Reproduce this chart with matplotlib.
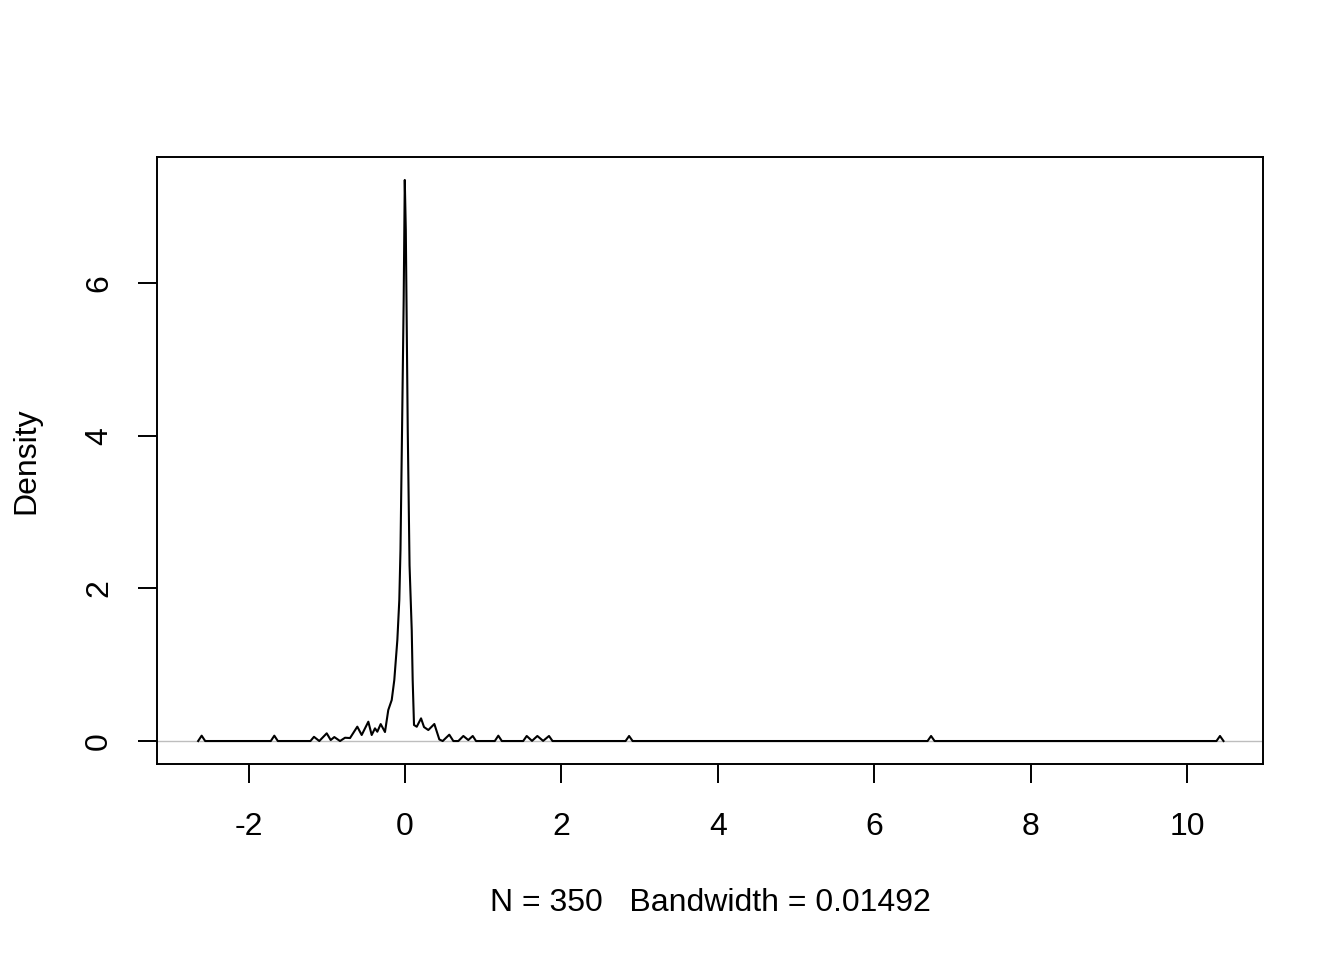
import matplotlib
matplotlib.use("Agg")
import matplotlib.pyplot as plt

plt.rcParams['font.family'] = ['Liberation Sans', 'DejaVu Sans']

# Density curve vertices (x, density)
curve_x = [-2.645, -2.600, -2.555, -1.716, -1.671, -1.626, -1.209, -1.164,
           -1.096, -1.001, -0.950, -0.904, -0.831, -0.767, -0.703, -0.610,
           -0.554, -0.469, -0.426, -0.384, -0.354, -0.311, -0.256, -0.214,
           -0.170, -0.137, -0.098, -0.073, -0.058, -0.038, -0.017, -0.003,
           0.010, 0.035, 0.058, 0.086, 0.098, 0.115, 0.150, 0.205, 0.243,
           0.298, 0.375, 0.439, 0.482, 0.566, 0.618, 0.682, 0.746, 0.809,
           0.866, 0.908, 1.148, 1.193, 1.238, 1.511, 1.556, 1.624, 1.692,
           1.766, 1.841, 1.886, 2.820, 2.865, 2.910, 6.681, 6.726, 6.771,
           10.375, 10.420, 10.465]
curve_y = [0.0, 0.070, 0.0, 0.0, 0.070, 0.0, 0.0, 0.055,
           0.0, 0.101, 0.013, 0.052, 0.0, 0.043, 0.039, 0.188,
           0.079, 0.253, 0.079, 0.166, 0.122, 0.222, 0.118, 0.406,
           0.537, 0.799, 1.323, 1.847, 2.50, 4.07, 5.78, 7.35,
           6.70, 4.07, 2.30, 1.45, 0.80, 0.21, 0.187, 0.297, 0.183,
           0.144, 0.223, 0.020, 0.0, 0.083, 0.0, 0.0, 0.066, 0.013,
           0.066, 0.0, 0.0, 0.070, 0.0, 0.0, 0.066, 0.002, 0.066,
           0.002, 0.066, 0.0, 0.0, 0.066, 0.0, 0.0, 0.066, 0.0,
           0.0, 0.066, 0.0]

x_ticks = [-2, 0, 2, 4, 6, 8, 10]
y_ticks = [0, 2, 4, 6]
x_label = "N = 350   Bandwidth = 0.01492"
y_label = "Density"

fig = plt.figure(figsize=(13.44, 9.6), dpi=100)
ax = fig.add_axes([157/1344, 1 - 764/960, (1263 - 157)/1344, (764 - 157)/960])

ax.axhline(0, color='#BEBEBE', lw=1.0, zorder=1)
ax.plot(curve_x, curve_y, color='black', lw=1.5, zorder=2)

ax.set_xlim(-3.171, 10.97)
ax.set_ylim(-0.301, 7.651)
ax.set_xticks(x_ticks)
ax.set_xticklabels([str(v) for v in x_ticks])
ax.set_yticks(y_ticks)
ax.set_yticklabels([str(v) for v in y_ticks], rotation=90, va='center')

for s in ax.spines.values():
    s.set_linewidth(1.4)
ax.tick_params(axis='both', direction='out', length=13.5, width=1.4,
               labelsize=23, colors='black')
ax.tick_params(axis='x', pad=21)
ax.tick_params(axis='y', pad=17.5)

ax.set_xlabel(x_label, fontsize=23, labelpad=33)
ax.set_ylabel(y_label, fontsize=23, labelpad=31)

fig.savefig("out.png", dpi=100)
